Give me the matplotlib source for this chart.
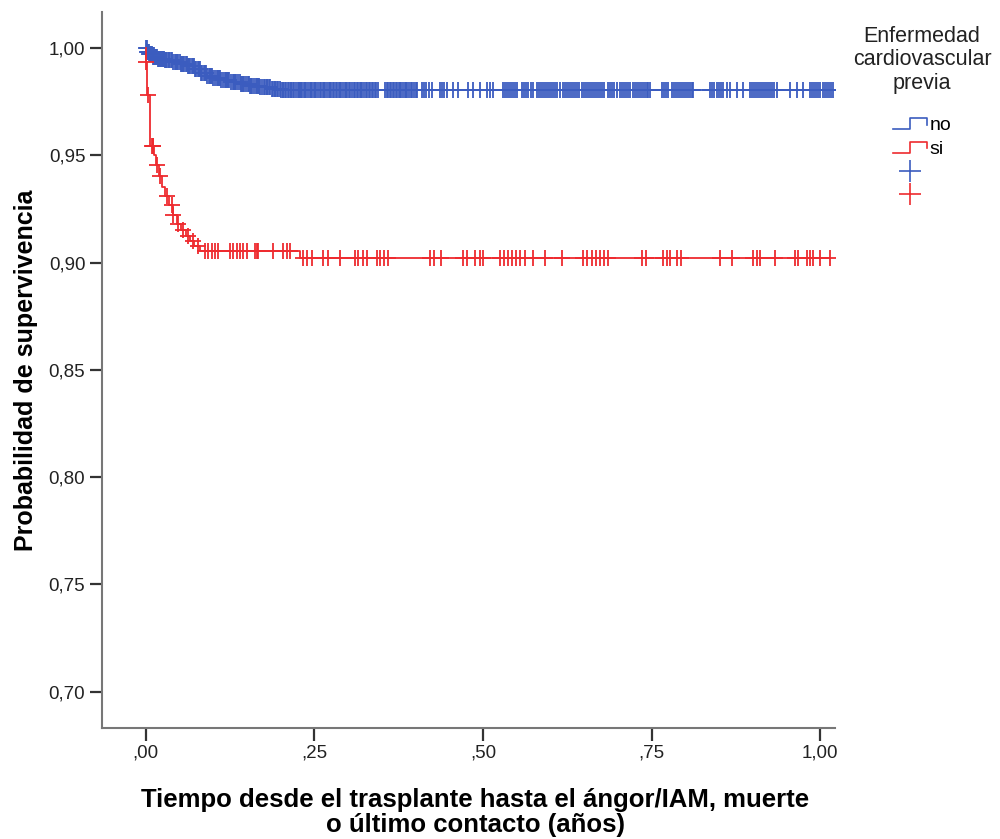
import numpy as np
import matplotlib
matplotlib.use("Agg")
import matplotlib.pyplot as plt
from matplotlib.lines import Line2D
from matplotlib.legend_handler import HandlerBase

plt.rcParams['font.family'] = ['Liberation Sans', 'DejaVu Sans']

# --- datos ---
# grupo "no" (azul): tiempos de evento y supervivencia tras cada evento
no_t = [0.002, 0.005, 0.010, 0.018, 0.028, 0.040, 0.052, 0.062, 0.072, 0.082,
        0.090, 0.100, 0.112, 0.125, 0.140, 0.155, 0.170, 0.185, 0.200]
no_s = [0.998, 0.997, 0.996, 0.995, 0.9943, 0.9935, 0.9925, 0.9915, 0.990, 0.9885,
        0.987, 0.986, 0.9852, 0.9842, 0.9832, 0.9823, 0.9817, 0.9810, 0.9805]
no_cens = [0.000, 0.001, 0.002, 0.003, 0.004, 0.005, 0.006, 0.008, 0.009, 0.011,
           0.012, 0.014, 0.015, 0.016, 0.018, 0.019, 0.021, 0.023, 0.024,
           0.025, 0.027, 0.028, 0.030, 0.032, 0.034, 0.035, 0.037, 0.039, 0.041,
           0.043, 0.044, 0.046, 0.048, 0.050, 0.052, 0.053,
           0.055, 0.057, 0.059, 0.061, 0.062, 0.064, 0.066, 0.068, 0.070, 0.071,
           0.073, 0.075, 0.077, 0.079, 0.080, 0.082, 0.084,
           0.086, 0.088, 0.089, 0.091, 0.093, 0.095, 0.097, 0.098, 0.100, 0.102,
           0.105, 0.107, 0.108, 0.110, 0.112, 0.115, 0.117, 0.119,
           0.120, 0.122, 0.124, 0.127, 0.129, 0.131, 0.132, 0.134, 0.136, 0.139,
           0.141, 0.143, 0.144, 0.146, 0.148, 0.151, 0.153, 0.155, 0.156, 0.158,
           0.160, 0.163, 0.165, 0.167, 0.168, 0.170, 0.172, 0.175, 0.177, 0.179,
           0.180, 0.182, 0.184, 0.187, 0.189, 0.191, 0.192, 0.194, 0.196, 0.199,
           0.201, 0.203, 0.204, 0.206, 0.208, 0.211, 0.213, 0.215, 0.216, 0.218,
           0.220, 0.223, 0.225, 0.227, 0.228, 0.230, 0.232, 0.234, 0.236, 0.238,
           0.241, 0.243, 0.245, 0.247, 0.249, 0.251, 0.253, 0.256, 0.258, 0.260,
           0.262, 0.264, 0.266, 0.269, 0.271, 0.273, 0.275, 0.277, 0.279,
           0.282, 0.284, 0.286, 0.288, 0.290, 0.292, 0.295, 0.297, 0.299, 0.301,
           0.303, 0.306, 0.308, 0.310, 0.313, 0.315, 0.317, 0.319, 0.321, 0.324,
           0.326, 0.328, 0.331, 0.333, 0.335, 0.337, 0.340, 0.342, 0.344, 0.355,
           0.357, 0.359, 0.362, 0.364, 0.366, 0.368, 0.371, 0.373, 0.375,
           0.377, 0.379, 0.381, 0.384, 0.386, 0.388, 0.390, 0.393, 0.395, 0.398,
           0.400, 0.402, 0.410, 0.413, 0.415, 0.420, 0.424,
           0.436, 0.439, 0.442, 0.447, 0.455, 0.463, 0.478, 0.485, 0.496, 0.506,
           0.510, 0.515, 0.530, 0.533, 0.536, 0.539, 0.542, 0.545, 0.548, 0.550,
           0.558, 0.561, 0.564, 0.567, 0.571, 0.574, 0.580, 0.583, 0.586, 0.589,
           0.592, 0.595, 0.598, 0.601, 0.604, 0.607, 0.610, 0.614, 0.619, 0.622,
           0.625, 0.628, 0.631, 0.634, 0.637, 0.640, 0.643, 0.647, 0.650, 0.653,
           0.656, 0.659, 0.662, 0.665, 0.668, 0.671, 0.674, 0.677, 0.680, 0.685,
           0.688, 0.691, 0.694, 0.699, 0.703, 0.706, 0.709, 0.712, 0.715, 0.718,
           0.723, 0.726, 0.728, 0.731, 0.734, 0.737, 0.740, 0.743, 0.745, 0.748,
           0.766, 0.769, 0.772, 0.774, 0.780, 0.783, 0.786, 0.789, 0.792, 0.795,
           0.798, 0.801, 0.804, 0.807, 0.810, 0.812, 0.837, 0.840, 0.843, 0.847,
           0.850, 0.853, 0.856, 0.862, 0.866, 0.877, 0.886, 0.896, 0.899, 0.902,
           0.905, 0.908, 0.911, 0.914, 0.917, 0.920, 0.923, 0.926, 0.929, 0.932,
           0.936, 0.955, 0.966, 0.975, 0.985, 0.988, 0.991, 0.994, 0.997, 1.000,
           1.004, 1.007, 1.010, 1.013, 1.016, 1.019]

# grupo "si" (rojo)
si_t = [0.000, 0.0015, 0.006, 0.012, 0.015, 0.019, 0.024, 0.028, 0.034, 0.040,
        0.046, 0.052, 0.060, 0.066, 0.072, 0.080, 0.228]
si_s = [0.9935, 0.978, 0.9545, 0.950, 0.9455, 0.9405, 0.935, 0.931, 0.927, 0.922,
        0.918, 0.915, 0.9125, 0.910, 0.9075, 0.9055, 0.9023]
si_cens = [0.0008, 0.003, 0.009, 0.0104, 0.011, 0.0163, 0.0208, 0.031, 0.0386, 0.041,
           0.0475, 0.055, 0.062, 0.070, 0.077, 0.088, 0.092, 0.098, 0.102, 0.107,
           0.125, 0.129, 0.135, 0.139, 0.144, 0.150, 0.162, 0.165, 0.166, 0.188,
           0.203, 0.209, 0.214, 0.233, 0.239, 0.246, 0.263, 0.270, 0.288, 0.310,
           0.315, 0.322, 0.328, 0.343, 0.347, 0.353, 0.359, 0.421, 0.427, 0.438,
           0.470, 0.476, 0.488, 0.496, 0.500, 0.525, 0.531, 0.537, 0.543, 0.549,
           0.555, 0.562, 0.574, 0.592, 0.617, 0.648, 0.654, 0.662, 0.668, 0.674,
           0.680, 0.686, 0.736, 0.742, 0.767, 0.773, 0.777, 0.788, 0.794, 0.852,
           0.869, 0.901, 0.907, 0.911, 0.933, 0.963, 0.967, 0.981, 0.985, 0.990,
           1.000, 1.015]

x_ticks = [0.0, 0.25, 0.5, 0.75, 1.0]
x_labels = [",00", ",25", ",50", ",75", "1,00"]
y_ticks = [0.70, 0.75, 0.80, 0.85, 0.90, 0.95, 1.00]
y_labels = ["0,70", "0,75", "0,80", "0,85", "0,90", "0,95", "1,00"]

BLUE = "#3b5cbf"
RED = "#ee2b2f"


def km_steps(t, s, cens):
    # curva escalonada que empieza en 1 y llega hasta el último dato
    tt = np.concatenate([[0.0], t, [max(cens)]])
    ss = np.concatenate([[1.0], s, [s[-1]]])
    return tt, ss


def surv_at(t, s, x):
    idx = np.searchsorted(t, x, side='right') - 1
    return np.where(idx < 0, 1.0, np.array(s)[np.clip(idx, 0, None)])


fig = plt.figure(figsize=(10, 8.39), dpi=100)
ax = fig.add_axes([0.102, 0.1323, 0.733, 0.8534])

for t, s, cens, col in [(no_t, no_s, no_cens, BLUE), (si_t, si_s, si_cens, RED)]:
    tt, ss = km_steps(np.array(t), np.array(s), cens)
    ax.step(tt, ss, where='post', color=col, lw=1.3)
    ax.plot(cens, surv_at(np.array(t), s, np.array(cens)), ls='none',
            marker='+', ms=11, mew=1.3, color=col)

ax.set_xlim(-0.065, 1.022)
ax.set_ylim(0.683, 1.0168)
ax.set_xticks(x_ticks)
ax.set_xticklabels(x_labels)
ax.set_yticks(y_ticks)
ax.set_yticklabels(y_labels)
ax.tick_params(direction='out', length=9, width=1.6, color='#333333',
               labelsize=13.5, labelcolor='#222222', pad=3)
for side in ['top', 'right']:
    ax.spines[side].set_visible(False)
for side in ['left', 'bottom']:
    ax.spines[side].set_color('#777777')
    ax.spines[side].set_linewidth(1.5)

ax.set_ylabel("Probabilidad de supervivencia", fontsize=18, fontweight='bold',
              labelpad=8)
fig.text(0.475, 0.032, "Tiempo desde el trasplante hasta el ángor/IAM, muerte\n"
         "o último contacto (años)", ha='center', va='center', fontsize=18.5,
         fontweight='bold', linespacing=1.05)


class StepHandler(HandlerBase):
    def create_artists(self, legend, orig, xd, yd, w, h, fontsize, trans):
        xs = [xd, xd + 0.5 * w, xd + 0.5 * w, xd + w, xd + w]
        ys = [yd + 0.1 * h, yd + 0.1 * h, yd + 0.9 * h, yd + 0.9 * h, yd + 0.4 * h]
        ln = Line2D(xs, ys, color=orig.get_color(), lw=1.2, transform=trans)
        return [ln]


fig.text(0.922, 0.9285, "Enfermedad\ncardiovascular\nprevia", ha='center',
         va='center', fontsize=15.5, color='#222222', linespacing=1.17)
handles = [Line2D([], [], color=BLUE), Line2D([], [], color=RED),
           Line2D([], [], color=BLUE, ls='none', marker='+', ms=16, mew=1.2),
           Line2D([], [], color=RED, ls='none', marker='+', ms=16, mew=1.2)]
leg = fig.legend(handles, ["no", "si", "", ""], loc='upper left',
                 bbox_to_anchor=(0.879, 0.877), frameon=False, fontsize=14,
                 handlelength=1.75, handletextpad=0.15, labelspacing=0.3,
                 borderpad=0.2, handler_map={handles[0]: StepHandler(),
                                             handles[1]: StepHandler()})

fig.savefig("out.png", dpi=100, facecolor='white')
